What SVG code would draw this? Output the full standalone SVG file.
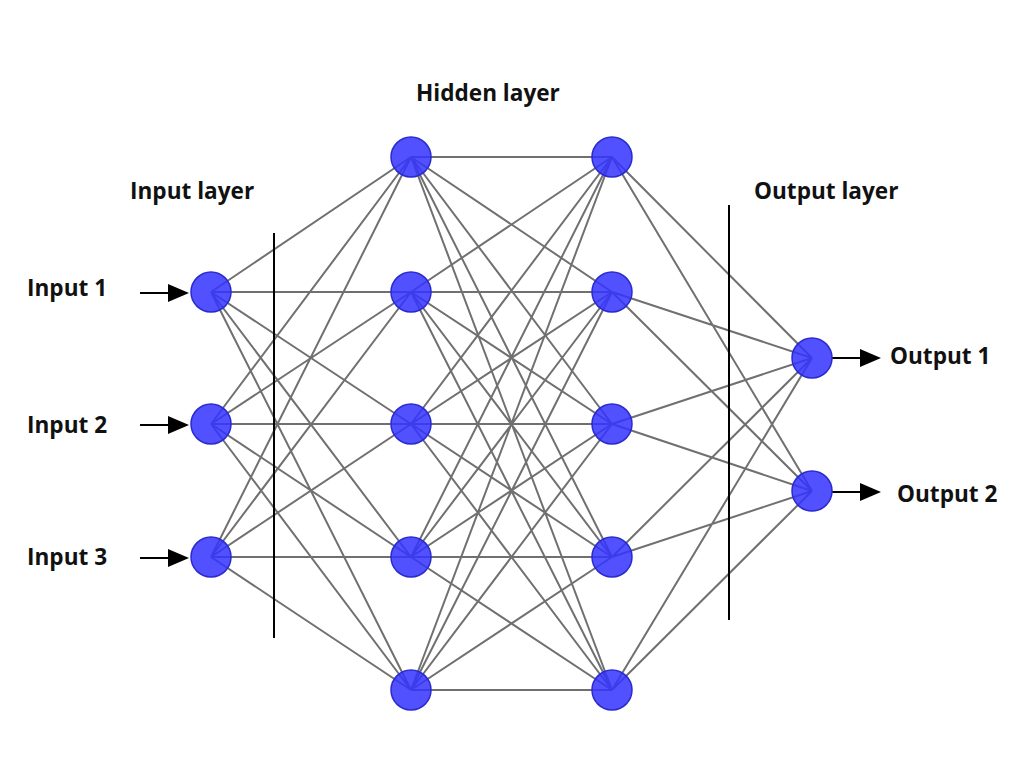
<svg xmlns="http://www.w3.org/2000/svg" width="1024" height="768" viewBox="0 0 1024 768">
<style>
.t{font-family:"Open Sans","Liberation Sans",sans-serif;font-weight:700;font-size:22.6px;fill:#111}
.e{stroke:#707070;stroke-width:2;fill:none}
.n{fill:#3333ff;fill-opacity:0.85;stroke:#2a2ad0;stroke-width:1.5}
.v{stroke:#000;stroke-width:2}
</style>
<rect width="1024" height="768" fill="#fff"/>
<g id="connectors">
<path class="e" d="M211,292L411,157M211,292L411,292M211,292L411,424M211,292L411,557M211,292L411,690
M211,424L411,157M211,424L411,292M211,424L411,424M211,424L411,557M211,424L411,690
M211,557L411,157M211,557L411,292M211,557L411,424M211,557L411,557M211,557L411,690"/>
<path class="e" d="M411,157L612,157M411,157L612,292M411,157L612,424M411,157L612,557M411,157L612,690
M411,292L612,157M411,292L612,292M411,292L612,424M411,292L612,557M411,292L612,690
M411,424L612,157M411,424L612,292M411,424L612,424M411,424L612,557M411,424L612,690
M411,557L612,157M411,557L612,292M411,557L612,424M411,557L612,557M411,557L612,690
M411,690L612,157M411,690L612,292M411,690L612,424M411,690L612,557M411,690L612,690"/>
<path class="e" d="M612,157L812,358M612,157L812,491M612,292L812,358M612,292L812,491M612,424L812,358M612,424L812,491
M612,557L812,358M612,557L812,491M612,690L812,358M612,690L812,491"/>
<line class="v" x1="274" y1="233" x2="274" y2="638"/>
<line class="v" x1="729" y1="205" x2="729" y2="620"/>
<line class="v" x1="140" y1="293" x2="172" y2="293"/>
<path d="M168,284L189,293L168,302Z"/>
<line class="v" x1="140" y1="425" x2="172" y2="425"/>
<path d="M168,416L189,425L168,434Z"/>
<line class="v" x1="140" y1="558" x2="172" y2="558"/>
<path d="M168,549L189,558L168,567Z"/>
<line class="v" x1="832" y1="358" x2="864" y2="358"/>
<path d="M860,349L881,358L860,367Z"/>
<line class="v" x1="832" y1="492" x2="864" y2="492"/>
<path d="M860,483L881,492L860,501Z"/>
</g>
<g id="input1"><circle class="n" cx="211" cy="292" r="20"/></g>
<g id="input2"><circle class="n" cx="211" cy="424" r="20"/></g>
<g id="input3"><circle class="n" cx="211" cy="557" r="20"/></g>
<g id="h1a"><circle class="n" cx="411" cy="157" r="20"/></g>
<g id="h1b"><circle class="n" cx="411" cy="292" r="20"/></g>
<g id="h1c"><circle class="n" cx="411" cy="424" r="20"/></g>
<g id="h1d"><circle class="n" cx="411" cy="557" r="20"/></g>
<g id="h1e"><circle class="n" cx="411" cy="690" r="20"/></g>
<g id="h2a"><circle class="n" cx="612" cy="157" r="20"/></g>
<g id="h2b"><circle class="n" cx="612" cy="292" r="20"/></g>
<g id="h2c"><circle class="n" cx="612" cy="424" r="20"/></g>
<g id="h2d"><circle class="n" cx="612" cy="557" r="20"/></g>
<g id="h2e"><circle class="n" cx="612" cy="690" r="20"/></g>
<g id="output1"><circle class="n" cx="812" cy="358" r="20"/></g>
<g id="output2"><circle class="n" cx="812" cy="491" r="20"/></g>
<g id="labels">
<text class="t" x="130" y="199">Input layer</text>
<text class="t" x="416" y="101">Hidden layer</text>
<text class="t" x="754" y="199">Output layer</text>
<text class="t" x="27" y="296">Input 1</text>
<text class="t" x="27" y="433">Input 2</text>
<text class="t" x="27" y="565">Input 3</text>
<text class="t" x="890" y="364">Output 1</text>
<text class="t" x="897" y="502">Output 2</text>
</g>
</svg>
